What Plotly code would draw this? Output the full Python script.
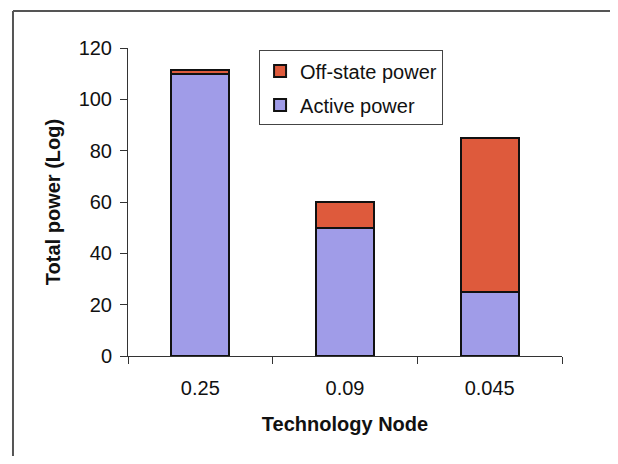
import plotly.graph_objects as go

nodes = ["0.25", "0.09", "0.045"]
active_power = [110, 50, 25]
offstate_power = [1.5, 10, 60]
y_ticks = [0, 20, 40, 60, 80, 100, 120]

FONT = "Liberation Sans, Arial, sans-serif"

fig = go.Figure()
fig.add_trace(go.Bar(
    x=nodes, y=active_power, name="Active power", legendgroup="a", legendrank=2,
    marker=dict(color="#a09ce8", line=dict(color="#111111", width=2)),
    width=0.4,
))
fig.add_trace(go.Bar(
    x=nodes, y=offstate_power, name="Off-state power", legendgroup="o", legendrank=1,
    marker=dict(color="#de5a3c", line=dict(color="#111111", width=2)),
    width=0.4,
))

# figure kept smaller than the window to compensate for the page's body margin
fig.update_layout(
    barmode="stack",
    width=602, height=448,
    margin=dict(l=120, r=48, t=40, b=100),
    paper_bgcolor="white", plot_bgcolor="white",
    font=dict(family=FONT, color="#111111", size=20),
    showlegend=True,
    legend=dict(
        x=0.302, y=0.992, xanchor="left", yanchor="top",
        traceorder="grouped",
        bordercolor="#444444", borderwidth=1, bgcolor="white",
        font=dict(size=20, family=FONT),
        tracegroupgap=5,
        itemwidth=30,
    ),
    xaxis=dict(
        type="category",
        showline=True, linecolor="#333333", linewidth=1,
        ticks="outside", tickson="boundaries", ticklen=7, tickcolor="#333333",
        tickfont=dict(size=20, family=FONT),
        ticklabelstandoff=14,
        title=dict(text="<b>Technology Node</b>", font=dict(size=20, family=FONT), standoff=18),
        showgrid=False,
    ),
    yaxis=dict(
        range=[0, 120],
        tickvals=y_ticks,
        showline=True, linecolor="#333333", linewidth=1,
        ticks="outside", ticklen=7, tickcolor="#333333",
        tickfont=dict(size=20, family=FONT),
        ticklabelstandoff=4,
        title=dict(text="<b>Total power (Log)</b>", font=dict(size=20, family=FONT), standoff=12),
        showgrid=False, zeroline=False,
    ),
    shapes=[
        dict(type="line", xref="paper", yref="paper",
             x0=-0.265, x1=1.3, y0=1.12, y1=1.12,
             line=dict(color="#555555", width=2), layer="below"),
        dict(type="line", xref="paper", yref="paper",
             x0=-0.265, x1=-0.265, y0=-0.6, y1=1.12,
             line=dict(color="#555555", width=2), layer="below"),
    ],
)

fig.write_html("out.html")
